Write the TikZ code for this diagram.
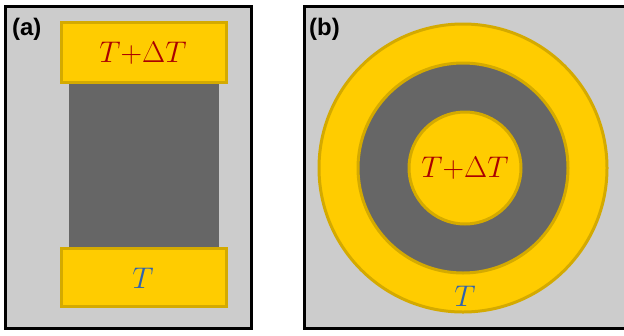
\RequirePackage{fix-cm}
\documentclass[tikz,border=0pt]{standalone}
\usepackage{fontspec}
\setsansfont{Liberation Sans}
\definecolor{bgray}{HTML}{CCCCCC}
\definecolor{gold}{HTML}{FFCC00}
\definecolor{goldedge}{HTML}{D4AA00}
\definecolor{dgray}{HTML}{666666}
\definecolor{tred}{HTML}{AA0000}
\definecolor{tblue}{HTML}{2F62B0}
\begin{document}
\begin{tikzpicture}[x=1bp,y=-1bp,
  frame/.style={draw=black,line width=3bp,fill=bgray},
  plate/.style={draw=goldedge,line width=3bp,fill=gold},
  core/.style={fill=dgray},
  lbl/.style={font=\sffamily\bfseries\fontsize{24}{24}\selectfont,inner sep=0pt,anchor=north west},
  hot/.style={text=tred,font=\fontsize{30}{30}\selectfont,inner sep=0pt},
  cold/.style={text=tblue,font=\fontsize{30}{30}\selectfont,inner sep=0pt}]
\useasboundingbox (0,0) rectangle (624,335);
% panel (a)
\draw[frame] (5.5,6.5) rectangle (251.5,328.5);
\fill[core] (69,84) rectangle (219,247);
\draw[plate] (61.5,22.5) rectangle (226.5,82.5);
\draw[plate] (61.5,248.5) rectangle (226.5,306.5);
\node[hot] (ha) at (143,53) {$T{+}\Delta T$};
\node[cold] (ca) at (143,278) {$T$};
\node[lbl] (la) at (12,18) {(a)};
% panel (b)
\draw[frame] (304,6.5) rectangle (626,328.5);
\node[plate,circle,minimum size=288bp,inner sep=0pt] (outer) at (463,168) {};
\node[draw=goldedge,line width=3bp,fill=dgray,circle,minimum size=210bp,inner sep=0pt] (mid) at (463,168) {};
\node[plate,circle,minimum size=112bp,inner sep=0pt] (inner) at (465,168) {};
\node[hot] (hb) at (465,168) {$T{+}\Delta T$};
\node[cold] (cb) at (465,296) {$T$};
\node[lbl] (lb) at (309,18) {(b)};
\end{tikzpicture}
\end{document}
